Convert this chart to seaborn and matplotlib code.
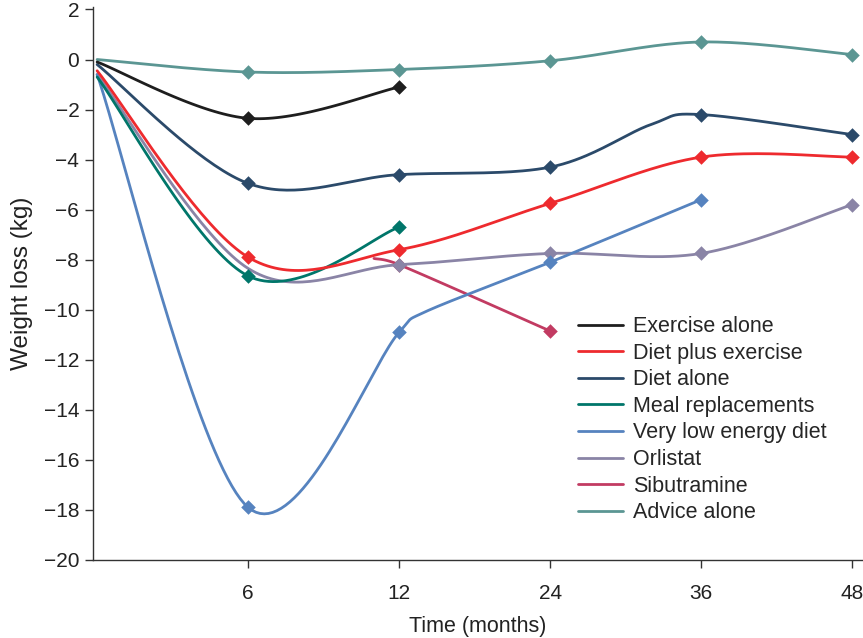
import numpy as np
import pandas as pd
import matplotlib
matplotlib.use("Agg")
import matplotlib.pyplot as plt
import seaborn as sns

# Time points shown on the axis (months) and their tick labels
MONTHS = [0, 6, 12, 24, 36, 48]
TICK_MONTHS = [6, 12, 24, 36, 48]
TICK_LABELS = ["6", "12", "24", "36", "48"]

# Mean weight loss (kg) per intervention
exercise_months = [0, 6, 12]
exercise_kg = [-0.1, -2.35, -1.1]
exercise_marked = [6, 12]

diet_ex_months = [0, 6, 12, 24, 36, 48]
diet_ex_kg = [-0.45, -7.9, -7.6, -5.75, -3.9, -3.9]
diet_ex_marked = [6, 12, 24, 36, 48]

diet_months = [0, 6, 12, 24, 32, 36, 48]
diet_kg = [-0.2, -4.95, -4.6, -4.3, -2.6, -2.2, -3.0]
diet_marked = [6, 12, 24, 36, 48]

meal_months = [0, 6, 12]
meal_kg = [-0.7, -8.65, -6.7]
meal_marked = [6, 12]

vled_months = [0, 6, 12, 14, 24, 36]
vled_kg = [-0.6, -17.9, -10.9, -10.1, -8.1, -5.6]
vled_marked = [6, 12, 24, 36]

orlistat_months = [0, 6, 12, 24, 36, 48]
orlistat_kg = [-0.6, -8.35, -8.2, -7.75, -7.75, -5.8]
orlistat_marked = [12, 24, 36, 48]

sib_months = [11, 12, 24]
sib_kg = [-7.95, -8.2, -10.85]
sib_marked = [12, 24]

advice_months = [0, 6, 12, 24, 36, 48]
advice_kg = [0.0, -0.5, -0.4, -0.05, 0.7, 0.2]
advice_marked = [6, 12, 24, 36, 48]

series = [
    ("Sibutramine", sib_months, sib_kg, sib_marked, "#c23b62"),
    ("Advice alone", advice_months, advice_kg, advice_marked, "#5b9693"),
    ("Orlistat", orlistat_months, orlistat_kg, orlistat_marked, "#8a84a6"),
    ("Very low energy diet", vled_months, vled_kg, vled_marked, "#5683bf"),
    ("Meal replacements", meal_months, meal_kg, meal_marked, "#00766a"),
    ("Diet alone", diet_months, diet_kg, diet_marked, "#2b4a6a"),
    ("Diet plus exercise", diet_ex_months, diet_ex_kg, diet_ex_marked, "#ee2a2e"),
    ("Exercise alone", exercise_months, exercise_kg, exercise_marked, "#1e1e1e"),
]
legend_order = ["Exercise alone", "Diet plus exercise", "Diet alone",
                "Meal replacements", "Very low energy diet", "Orlistat",
                "Sibutramine", "Advice alone"]

XSCALE = 6.0  # horizontal vs vertical unit ratio used for smoothing


def to_pos(months):
    """Map months onto the evenly spaced axis positions."""
    return np.interp(months, MONTHS, np.arange(len(MONTHS)))


def smooth(xs, ys, n=40):
    """Catmull-Rom Bezier smoothing through every point; tangents are
    shortened only next to very short segments to avoid loops."""
    P = np.column_stack([np.asarray(xs, float) * XSCALE, np.asarray(ys, float)])
    Pp = np.vstack([P[0], P, P[-1]])
    out = [P[:1]]
    t = np.linspace(0, 1, n)[1:, None]
    for i in range(len(P) - 1):
        p0, p1, p2, p3 = Pp[i], Pp[i + 1], Pp[i + 2], Pp[i + 3]
        d01 = np.hypot(*(p1 - p0))
        d12 = np.hypot(*(p2 - p1))
        d23 = np.hypot(*(p3 - p2))
        f1 = min(1.0, 4 * d12 / max(d01 + d12, 1e-9))
        f2 = min(1.0, 4 * d12 / max(d12 + d23, 1e-9))
        c1 = p1 + (p2 - p0) / 6.0 * f1
        c2 = p2 - (p3 - p1) / 6.0 * f2
        seg = ((1 - t) ** 3) * p1 + 3 * ((1 - t) ** 2) * t * c1 \
            + 3 * (1 - t) * t ** 2 * c2 + t ** 3 * p2
        out.append(seg)
    C = np.vstack(out)
    return C[:, 0] / XSCALE, C[:, 1]


sns.set_style("ticks")
plt.rcParams["font.family"] = ["Liberation Sans", "DejaVu Sans"]

fig = plt.figure(figsize=(8.63, 6.38), dpi=100)
ax = fig.add_axes([0.108, 0.1223, 0.891, 0.866])

for z, (name, months, kg, marked, color) in enumerate(series):
    cx, cy = smooth(to_pos(months), kg)
    curve = pd.DataFrame({"x": cx, "y": cy})
    sns.lineplot(data=curve, x="x", y="y", ax=ax, color=color, lw=2.0,
                 sort=False, estimator=None, label=name, zorder=2 + z)
    idx = [months.index(m) for m in marked]
    pts = pd.DataFrame({"x": to_pos([months[i] for i in idx]),
                        "y": [kg[i] for i in idx]})
    sns.scatterplot(data=pts, x="x", y="y", ax=ax, color=color, marker="D",
                    s=55, edgecolor=color, linewidth=0, legend=False,
                    zorder=2.5 + z)

h, l = ax.get_legend_handles_labels()
lookup = dict(zip(l, h))
ax.legend([lookup[n] for n in legend_order], legend_order,
          loc="upper left", bbox_to_anchor=(0.619, 0.457), frameon=False,
          fontsize=15.5, handlelength=2.1, handletextpad=0.45,
          labelspacing=0.26, borderaxespad=0, borderpad=0.4)

ax.set_xlim(-0.026, 5.066)
ax.set_ylim(-20, 2.08)
ax.set_xticks(to_pos(TICK_MONTHS))
ax.set_xticklabels(TICK_LABELS)
ax.set_yticks(np.arange(-20, 3, 2))
ax.set_yticklabels([f"\u2212{abs(v)}" if v < 0 else str(v)
                    for v in range(-20, 3, 2)])
ax.tick_params(axis="both", labelsize=15, length=6, width=1.0,
               color="#333333", labelcolor="#222222", pad=4)
ax.tick_params(axis="x", pad=11)
for side in ["left", "bottom"]:
    ax.spines[side].set_color("#333333")
    ax.spines[side].set_linewidth(1.0)
sns.despine(ax=ax)

ax.set_xlabel("Time (months)", fontsize=15.5, color="#222222", labelpad=10)
ax.set_ylabel("Weight loss (kg)", fontsize=17.5, color="#222222", labelpad=8)

fig.savefig("out.png", dpi=100)
